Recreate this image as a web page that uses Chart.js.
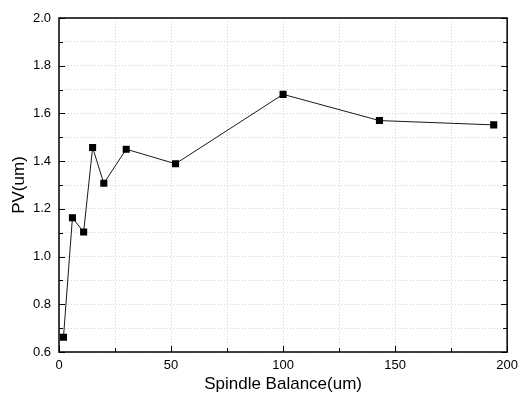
<!DOCTYPE html>
<html>
<head>
<meta charset="utf-8">
<script src="https://cdn.jsdelivr.net/npm/chart.js@4"></script>
<style>
  html, body { margin: 0; padding: 0; background: #fff; }
  #wrap { width: 524px; height: 401px; }
</style>
</head>
<body>
<div id="wrap"><canvas id="pvChart"></canvas></div>
<script>
// Spindle balance (um) vs PV (um)
const balance = [2, 6, 11, 15, 20, 30, 52, 100, 143, 194];
const pv = [0.662, 1.163, 1.103, 1.457, 1.307, 1.450, 1.389, 1.680, 1.570, 1.552];

const fontFamily = '"Liberation Sans", Arial, sans-serif';

// Draws the box round the plot and the inward tick marks
const frameTicks = {
    id: 'frameTicks',
    afterDatasetsDraw(chart) {
        const { ctx, chartArea } = chart;
        const x = chart.scales.x;
        const y = chart.scales.y;
        ctx.save();
        ctx.strokeStyle = '#000';
        ctx.lineWidth = 1;
        ctx.beginPath();
        x.ticks.forEach(t => {
            const px = Math.round(x.getPixelForValue(t.value)) + 0.5;
            const len = t.label !== '' ? 6 : 4;
            ctx.moveTo(px, chartArea.bottom);
            ctx.lineTo(px, chartArea.bottom - len);
        });
        y.ticks.forEach(t => {
            const py = Math.round(y.getPixelForValue(t.value)) + 0.5;
            const len = t.label !== '' ? 6 : 4;
            ctx.moveTo(chartArea.left, py);
            ctx.lineTo(chartArea.left + len, py);
            ctx.moveTo(chartArea.right, py);
            ctx.lineTo(chartArea.right - len, py);
        });
        ctx.stroke();
        ctx.lineWidth = 1.5;
        ctx.strokeRect(chartArea.left, chartArea.top,
            chartArea.right - chartArea.left, chartArea.bottom - chartArea.top);
        ctx.restore();
    }
};

const gridStyle = {
    color: '#d2d2d2',
    lineWidth: 1,
    drawTicks: false
};

new Chart(document.getElementById('pvChart'), {
    type: 'line',
    data: {
        datasets: [{
            data: balance.map((b, i) => ({ x: b, y: pv[i] })),
            borderColor: '#1a1a1a',
            borderWidth: 1,
            pointStyle: 'rect',
            pointRadius: 5,
            pointBorderWidth: 0,
            pointBackgroundColor: '#000',
            tension: 0
        }]
    },
    options: {
        responsive: true,
        maintainAspectRatio: false,
        animation: false,
        layout: { padding: { top: 18, right: 9, left: 0, bottom: 0 } },
        plugins: {
            legend: { display: false },
            tooltip: { enabled: false }
        },
        scales: {
            x: {
                type: 'linear',
                min: 0,
                max: 200,
                grid: gridStyle,
                border: { display: false, dash: [1, 2] },
                ticks: {
                    stepSize: 25,
                    autoSkip: false,
                    maxRotation: 0,
                    padding: 6,
                    color: '#000',
                    font: { family: fontFamily, size: 13 },
                    callback: v => (v % 50 === 0 ? String(v) : '')
                },
                title: {
                    display: true,
                    text: 'Spindle Balance(um)',
                    color: '#000',
                    font: { family: fontFamily, size: 17 },
                    padding: { top: 0, bottom: 6 }
                },
                afterFit: s => { s.height = 49; }
            },
            y: {
                min: 0.6,
                max: 2.0,
                grid: gridStyle,
                border: { display: false, dash: [1, 2] },
                ticks: {
                    stepSize: 0.1,
                    autoSkip: false,
                    padding: 8,
                    color: '#000',
                    font: { family: fontFamily, size: 13 },
                    callback: v => (Math.round(v * 10) % 2 === 0 ? v.toFixed(1) : '')
                },
                title: {
                    display: true,
                    text: 'PV(um)',
                    color: '#000',
                    font: { family: fontFamily, size: 17 },
                    padding: { top: 9, bottom: 0 }
                },
                afterFit: s => { s.width = 59; }
            }
        }
    },
    plugins: [frameTicks]
});
</script>
</body>
</html>
